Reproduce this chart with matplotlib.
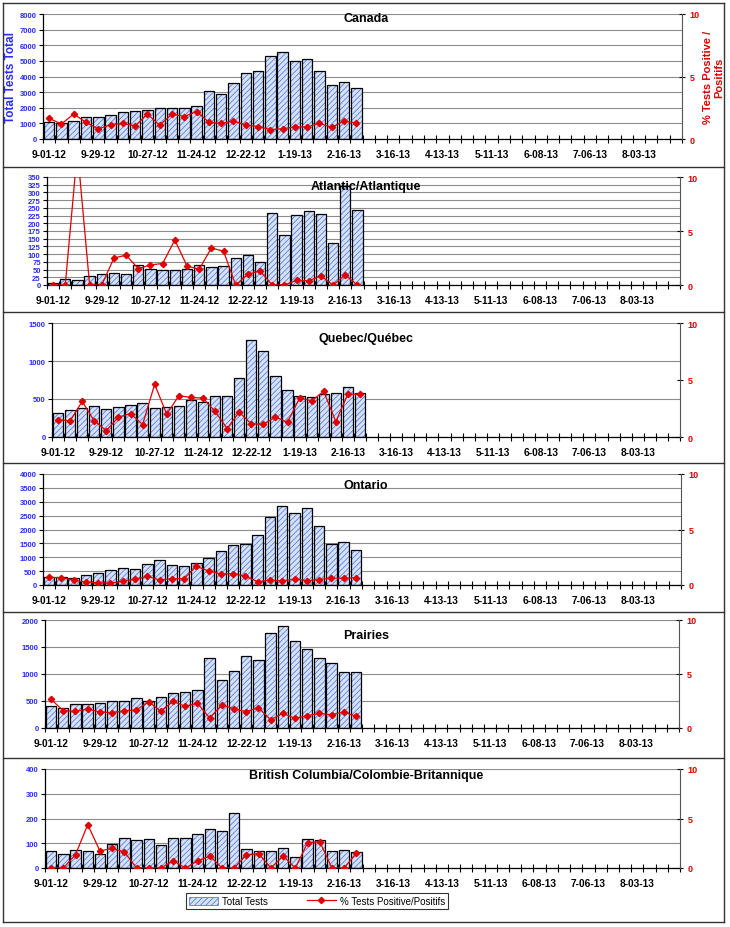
import numpy as np
import matplotlib
matplotlib.use('Agg')
import matplotlib.pyplot as plt
from matplotlib.patches import Patch
from matplotlib.lines import Line2D

plt.rcParams['font.family'] = ['Liberation Sans', 'DejaVu Sans']
plt.rcParams['hatch.linewidth'] = 0.6

# 52 weekly categories, labels every 4th week
n_weeks = 52
tick_labels = ['9-01-12', '9-29-12', '10-27-12', '11-24-12', '12-22-12', '1-19-13',
               '2-16-13', '3-16-13', '4-13-13', '5-11-13', '6-08-13', '7-06-13', '8-03-13']

# total tests per region (26 weeks reported)
canada_tests = [1066, 1023, 1130, 1386, 1386, 1557, 1706, 1770, 1834, 2004, 1962, 1962, 2132,
                3049, 2857, 3561, 4200, 4328, 5288, 5544, 5011, 5139, 4328, 3454, 3646, 3241]
atlantic_tests = [5, 18, 15, 30, 36, 39, 35, 66, 53, 48, 48, 53, 65,
                  57, 63, 86, 98, 74, 233, 163, 227, 241, 229, 136, 320, 242]
quebec_tests = [318, 353, 379, 410, 362, 401, 424, 450, 388, 401, 410, 485, 459,
                534, 534, 772, 1271, 1129, 799, 618, 534, 529, 569, 578, 662, 582]
ontario_tests = [276, 300, 240, 372, 420, 552, 612, 588, 768, 912, 720, 672, 780,
                 984, 1236, 1428, 1464, 1788, 2436, 2832, 2592, 2784, 2136, 1464, 1560, 1260]
prairies_tests = [407, 370, 444, 444, 463, 494, 494, 549, 500, 574, 642, 667, 698,
                  1296, 895, 1049, 1327, 1259, 1759, 1883, 1611, 1463, 1290, 1198, 1043, 1043]
bc_tests = [67, 57, 71, 67, 57, 97, 123, 113, 119, 94, 121, 121, 136,
            158, 148, 221, 75, 67, 67, 82, 44, 116, 113, 67, 71, 65]

# % tests positive
canada_pos = [1.65, 1.2, 2.0, 1.33, 0.8, 1.15, 1.25, 1.04, 2.0, 1.1, 2.0, 1.8, 2.2,
              1.33, 1.25, 1.44, 1.12, 1.0, 0.75, 0.83, 0.96, 0.96, 1.25, 0.93, 1.44, 1.28]
atlantic_pos = [0, 0, 12.5, 0, 0, 2.5, 2.76, 1.52, 1.86, 1.99, 4.16, 1.77, 1.46,
                3.42, 3.14, 0, 1.0, 1.3, 0, 0, 0.43, 0.4, 0.84, 0, 0.93, 0]
quebec_pos = [1.53, 1.41, 3.12, 1.41, 0.56, 1.74, 2.06, 1.09, 4.62, 2.0, 3.62, 3.47, 3.41,
              2.24, 0.74, 2.18, 1.15, 1.12, 1.74, 1.29, 3.41, 3.18, 4.0, 1.35, 3.76, 3.74]
ontario_pos = [0.69, 0.66, 0.45, 0.24, 0.21, 0.15, 0.36, 0.51, 0.78, 0.45, 0.57, 0.57, 1.68,
               1.26, 0.99, 1.02, 0.78, 0.3, 0.45, 0.36, 0.54, 0.39, 0.48, 0.63, 0.6, 0.66]
prairies_pos = [2.65, 1.6, 1.54, 1.76, 1.48, 1.42, 1.6, 1.67, 2.44, 1.54, 2.47, 2.0, 2.31,
                0.93, 2.13, 1.79, 1.51, 1.88, 0.77, 1.36, 0.9, 1.14, 1.36, 1.23, 1.48, 1.08]
bc_pos = [0, 0, 1.35, 4.38, 1.72, 1.99, 1.62, 0, 0, 0, 0.74, 0, 0.71,
          1.21, 0, 0, 1.35, 1.45, 0, 1.21, 0, 2.56, 2.66, 0, 0, 1.52]

titles = ['Canada', 'Atlantic/Atlantique', 'Quebec/Québec', 'Ontario', 'Prairies',
          'British Columbia/Colombie-Britannique']
tests = [canada_tests, atlantic_tests, quebec_tests, ontario_tests, prairies_tests, bc_tests]
pos = [canada_pos, atlantic_pos, quebec_pos, ontario_pos, prairies_pos, bc_pos]
ymax = [8000, 350, 1500, 4000, 2000, 400]
ystep = [1000, 25, 500, 500, 500, 100]

# axes boxes in pixels: left, right, top, bottom ; title y
W, H = 730, 928
boxes = [(43, 682, 15, 140), (47, 680, 178, 286), (52, 680, 324, 438),
         (43, 681, 475, 586), (45, 679, 621, 729), (45, 680, 770, 869)]
title_y = [19, 187, 339, 486, 636, 776]

bar_face = '#d6e2fb'
hatch_col = '#5b7fd8'
blue = '#2b2bff'
red = '#e00000'

fig = plt.figure(figsize=(W / 100, H / 100), dpi=100)

for i in range(6):
    l, r, t, b = boxes[i]
    ax = fig.add_axes([l / W, 1 - b / H, (r - l) / W, (b - t) / H])
    x = np.arange(len(tests[i]))

    ax.bar(x, tests[i], width=0.85, color=bar_face, edgecolor=hatch_col,
           hatch='//////', linewidth=0, zorder=2)
    ax.bar(x, tests[i], width=0.85, fill=False, edgecolor='black', linewidth=0.9, zorder=3)

    ax.set_xlim(-0.5, n_weeks - 0.5)
    ax.set_ylim(0, ymax[i])
    ax.set_yticks(np.arange(0, ymax[i] + 1, ystep[i]))
    ax.yaxis.grid(True, color='#8c8c8c', linewidth=0.8, zorder=0)
    ax.set_axisbelow(True)
    ax.tick_params(axis='y', labelsize=5.5, labelcolor=blue, length=3, width=0.8, pad=1.5)
    for lab in ax.get_yticklabels():
        lab.set_fontweight('bold')

    # tick marks between categories, labels under every 4th category
    ax.set_xticks(np.arange(-0.5, n_weeks, 1))
    ax.set_xticklabels([])
    ax.tick_params(axis='x', which='major', direction='inout', length=6, width=0.8)
    ax.set_xticks(np.arange(0, n_weeks, 4), minor=True)
    ax.set_xticklabels(tick_labels, minor=True, fontsize=7.3, fontweight='bold')
    ax.tick_params(axis='x', which='minor', length=0, pad=7)

    ax.spines['top'].set_visible(False)
    ax.spines['right'].set_visible(False)
    ax.spines['left'].set_linewidth(0.9)
    ax.spines['bottom'].set_linewidth(0.9)

    ax2 = ax.twinx()
    ax2.plot(x, pos[i], color=red, linewidth=0.9, marker='D', markersize=3.2,
             markeredgecolor=red, zorder=4)
    ax2.set_ylim(0, 10)
    ax2.set_yticks([0, 5, 10])
    ax2.tick_params(axis='y', labelsize=6.5, labelcolor=red, direction='inout',
                    length=5, width=0.8, pad=3)
    for lab in ax2.get_yticklabels():
        lab.set_fontweight('bold')
    ax2.spines['top'].set_visible(False)
    ax2.spines['left'].set_visible(False)
    ax2.spines['bottom'].set_visible(False)
    ax2.spines['right'].set_color('#555555')

    fig.text(366 / W, 1 - title_y[i] / H, titles[i], ha='center', va='center',
             fontsize=9, fontweight='bold')

    if i == 0:
        ax.set_ylabel('Total Tests Total', color=blue, fontsize=8.5, fontweight='bold',
                      labelpad=2)
        ax2.set_ylabel('% Tests Positive /\nPositifs', color=red, fontsize=8,
                       fontweight='bold', labelpad=2)

# panel frames
frame = dict(color='#333333', linewidth=1.0)
fig.add_artist(Line2D([3 / W, 3 / W], [1 - 4 / H, 1 - 923 / H], **frame))
fig.add_artist(Line2D([724 / W, 724 / W], [1 - 4 / H, 1 - 923 / H], **frame))
for yy in [4, 168, 313, 464, 613, 759, 923]:
    fig.add_artist(Line2D([3 / W, 724 / W], [1 - yy / H, 1 - yy / H], **frame))

handles = [Patch(facecolor=bar_face, edgecolor=hatch_col, hatch='//////', linewidth=0.6),
           Line2D([], [], color=red, linewidth=0.9, marker='D', markersize=3.2)]
leg = fig.legend(handles, ['Total Tests', '% Tests Positive/Positifs'], ncol=2,
                 loc='center', bbox_to_anchor=(317 / W, 1 - 902 / H), fontsize=7,
                 frameon=True, fancybox=False, edgecolor='black', borderpad=0.3,
                 handlelength=3, handleheight=0.9, columnspacing=4, handletextpad=0.4)
leg.get_frame().set_linewidth(0.8)

fig.savefig('out.png', dpi=100)
